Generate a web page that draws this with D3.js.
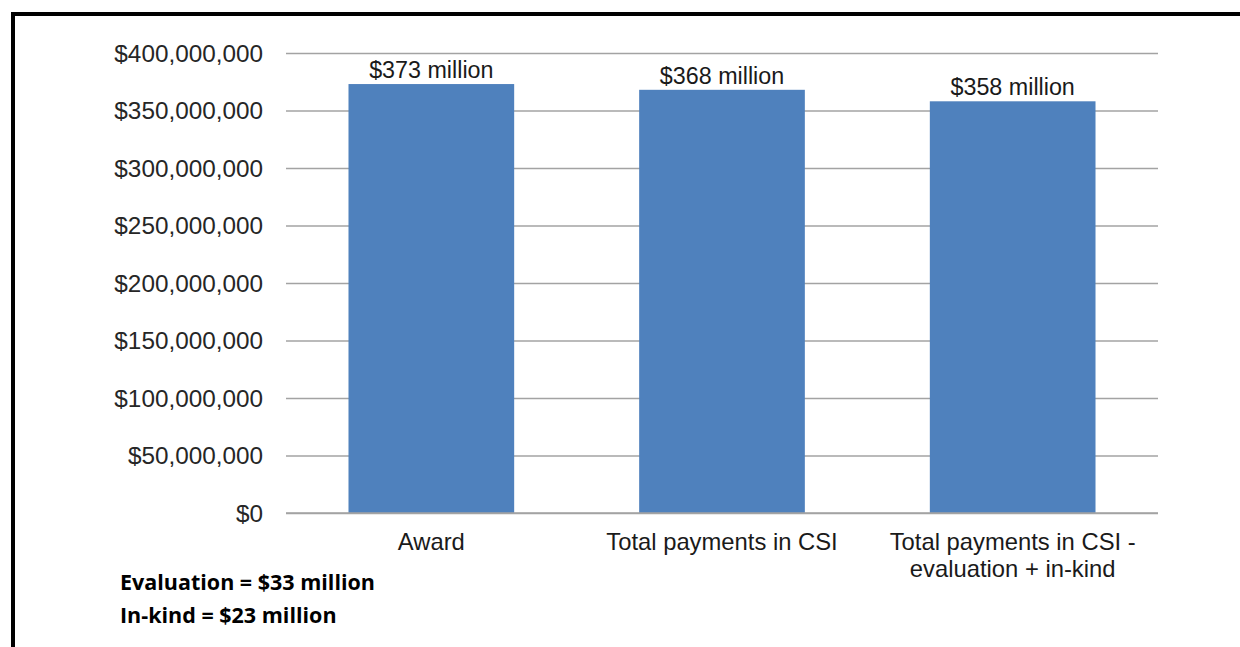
<!DOCTYPE html>
<html>
<head>
<meta charset="utf-8">
<script src="https://cdn.jsdelivr.net/npm/d3@7"></script>
<style>
  html, body { margin: 0; padding: 0; background: #fff; }
  svg { display: block; }
</style>
</head>
<body>
<svg id="chart" width="1240" height="647"></svg>
<script>
// Funding comparison data (US dollars)
const categories = ["Award", "Total payments in CSI", "Total payments in CSI -\nevaluation + in-kind"];
const amounts = [373e6, 368e6, 358e6];
const valueLabels = ["$373 million", "$368 million", "$358 million"];
const yTicks = [0, 50e6, 100e6, 150e6, 200e6, 250e6, 300e6, 350e6, 400e6];
const notes = ["Evaluation = $33 million", "In-kind = $23 million"];

const svg = d3.select("#chart");
const W = 1240, H = 647;
const plot = { left: 286, right: 1158, top: 53, bottom: 513 };

// frame around the figure
svg.append("rect")
  .attr("x", 13).attr("y", 14)
  .attr("width", W + 20).attr("height", H + 20)
  .attr("fill", "none").attr("stroke", "#000").attr("stroke-width", 4);

const y = d3.scaleLinear().domain([0, 400e6]).range([plot.bottom, plot.top]);
const x = d3.scaleBand().domain(categories).range([plot.left, plot.right])
  .paddingInner(0.43).paddingOuter(0.215);

const fmt = v => "$" + d3.format(",")(v);
const labelFont = "'Liberation Sans', Arial, sans-serif";

// value axis with gridlines
const yAxis = d3.axisLeft(y).tickValues(yTicks).tickFormat(fmt)
  .tickSize(-(plot.right - plot.left)).tickPadding(23);
const gy = svg.append("g").attr("transform", `translate(${plot.left},0)`).call(yAxis);
gy.select(".domain").remove();
gy.selectAll(".tick line").attr("stroke", "#a3a3a3").attr("stroke-width", 1.4);
gy.selectAll(".tick text")
  .attr("font-family", labelFont).attr("font-size", 24.3)
  .attr("fill", "#262626").attr("dy", "0.34em");

// bars
svg.append("g").selectAll("rect").data(amounts).join("rect")
  .attr("x", (d, i) => x(categories[i]))
  .attr("y", d => y(d))
  .attr("width", x.bandwidth())
  .attr("height", d => y(0) - y(d))
  .attr("fill", "#4f81bd");

// redraw baseline over bars
svg.append("line")
  .attr("x1", plot.left).attr("x2", plot.right)
  .attr("y1", y(0)).attr("y2", y(0))
  .attr("stroke", "#a3a3a3").attr("stroke-width", 1.4);

// value labels above bars
svg.append("g").selectAll("text").data(amounts).join("text")
  .attr("x", (d, i) => x(categories[i]) + x.bandwidth() / 2)
  .attr("y", d => y(d) - 6)
  .attr("text-anchor", "middle")
  .attr("font-family", labelFont).attr("font-size", 23.3)
  .attr("fill", "#1a1a1a")
  .text((d, i) => valueLabels[i]);

// category labels
const cat = svg.append("g").selectAll("text").data(categories).join("text")
  .attr("x", d => x(d) + x.bandwidth() / 2)
  .attr("y", 549.5)
  .attr("text-anchor", "middle")
  .attr("font-family", labelFont).attr("font-size", 23.8)
  .attr("fill", "#1a1a1a");
cat.each(function(d) {
  const t = d3.select(this);
  d.split("\n").forEach((line, k) => {
    t.append("tspan").attr("x", t.attr("x")).attr("dy", k === 0 ? 0 : 27).text(line);
  });
});

// footnotes
svg.append("g").selectAll("text").data(notes).join("text")
  .attr("x", 120)
  .attr("y", (d, i) => 590 + i * 33)
  .attr("font-family", "'Open Sans', Lato, sans-serif")
  .attr("font-weight", 700).attr("font-size", 21.5)
  .attr("fill", "#000")
  .text(d => d);
</script>
</body>
</html>
